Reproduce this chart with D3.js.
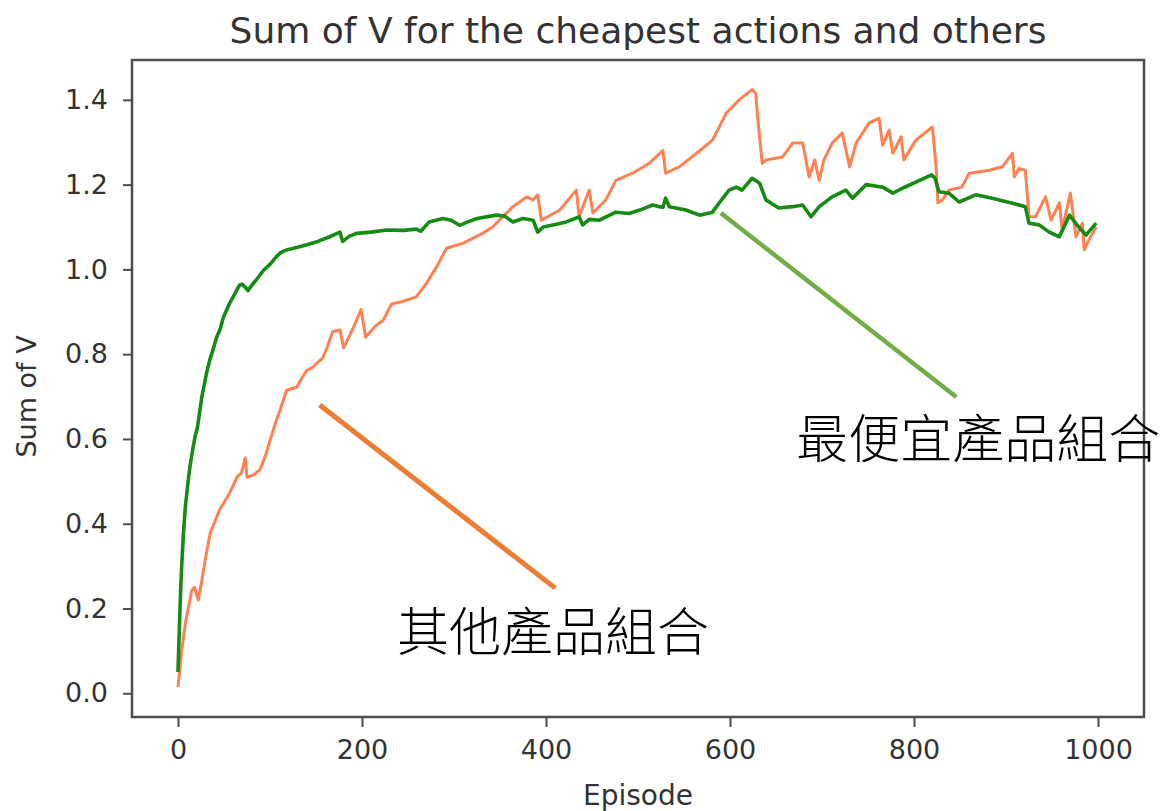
<!DOCTYPE html>
<html>
<head>
<meta charset="utf-8">
<script src="https://cdn.jsdelivr.net/npm/d3@7"></script>
<style>
  html, body { margin: 0; padding: 0; background: #fff; }
  svg { display: block; }
</style>
</head>
<body>
<svg id="chart" width="1173" height="811"></svg>
<script>
// ---- Data ----
const cheapEpisodes = [0,1,2,3,4,6,8,11,13,16,19,21,26,31,35,38,42,46,49,53,56,60,64,67,70,73,76,80,85,93,100,107,112,118,130,140,152,165,176,179,186,194,210,227,245,259,264,273,288,297,306,315,325,346,355,364,375,386,391,397,410,422,436,440,447,458,476,490,502,516,527,530,534,552,567,581,588,599,607,613,624,632,639,653,668,679,688,697,711,726,733,748,766,777,788,802,819,823,827,838,849,867,885,907,921,925,936,947,958,969,979,987,998];
const cheapValues = [0.05,0.12,0.19,0.25,0.30,0.38,0.44,0.50,0.535,0.575,0.61,0.625,0.70,0.755,0.79,0.81,0.84,0.86,0.885,0.905,0.92,0.935,0.952,0.963,0.965,0.958,0.950,0.962,0.975,0.998,1.012,1.03,1.04,1.046,1.052,1.058,1.066,1.077,1.088,1.066,1.078,1.085,1.088,1.093,1.092,1.095,1.09,1.112,1.12,1.116,1.104,1.112,1.12,1.128,1.126,1.112,1.12,1.116,1.088,1.10,1.106,1.112,1.124,1.105,1.118,1.116,1.135,1.132,1.14,1.152,1.146,1.168,1.148,1.14,1.128,1.135,1.156,1.187,1.194,1.187,1.215,1.204,1.164,1.145,1.148,1.152,1.124,1.148,1.171,1.187,1.168,1.2,1.194,1.18,1.192,1.206,1.223,1.215,1.183,1.18,1.159,1.176,1.168,1.156,1.148,1.109,1.105,1.088,1.077,1.128,1.10,1.081,1.109];

const otherEpisodes = [0,4,8,15,18,22,26,30,35,40,45,50,56,60,64,69,73,75,82,89,95,100,107,112,118,129,135,140,146,151,157,162,168,176,180,190,199,204,214,223,232,245,259,270,281,292,310,331,342,353,364,379,386,391,395,415,433,436,447,451,465,476,494,512,527,530,545,567,581,596,610,624,628,630,635,639,657,668,679,686,692,697,702,711,722,730,737,751,762,766,773,777,786,789,802,820,824,826,831,838,852,860,882,896,907,909,914,921,925,932,943,949,958,961,970,976,983,985,990,998];
const otherValues = [0.015,0.10,0.165,0.243,0.25,0.22,0.267,0.32,0.378,0.405,0.432,0.45,0.472,0.49,0.51,0.52,0.555,0.51,0.515,0.527,0.56,0.597,0.644,0.675,0.715,0.722,0.745,0.762,0.768,0.779,0.79,0.815,0.853,0.857,0.815,0.86,0.905,0.84,0.865,0.88,0.918,0.925,0.935,0.967,1.006,1.05,1.062,1.085,1.1,1.124,1.148,1.171,1.164,1.176,1.116,1.14,1.187,1.124,1.187,1.133,1.164,1.21,1.227,1.25,1.28,1.227,1.242,1.28,1.305,1.369,1.40,1.424,1.416,1.36,1.25,1.258,1.265,1.298,1.298,1.218,1.258,1.21,1.258,1.298,1.322,1.242,1.298,1.345,1.357,1.293,1.329,1.274,1.313,1.258,1.305,1.336,1.242,1.157,1.164,1.187,1.194,1.227,1.234,1.242,1.274,1.218,1.238,1.234,1.124,1.124,1.171,1.116,1.157,1.093,1.18,1.077,1.109,1.046,1.069,1.10];

const xTicks = [0, 200, 400, 600, 800, 1000];
const yTicks = [0.0, 0.2, 0.4, 0.6, 0.8, 1.0, 1.2, 1.4];
const titleText = "Sum of V for the cheapest actions and others";
const xLabel = "Episode";
const yLabel = "Sum of V";

// Annotation callouts (in data coordinates: episode, value)
const annotOtherLine = [[154, 0.680], [410, 0.248]];
const annotCheapLine = [[590, 1.133], [846, 0.699]];
const annotOtherText = { label: "其他產品組合", ep: 238, v: 0.099 };
const annotCheapText = { label: "最便宜產品組合", ep: 672, v: 0.555 };

// ---- Layout ----
const svg = d3.select("#chart");
const plotLeft = 132, plotRight = 1144, plotTop = 60, plotBottom = 717;

const x = d3.scaleLinear().domain([-50, 1050]).range([plotLeft, plotRight]);
const y = d3.scaleLinear().domain([-0.056, 1.494]).range([plotBottom, plotTop]);

const tickFont = "DejaVu Sans";
const textColor = "#333333";

// Lines
const cheapData = cheapEpisodes.map((e, i) => [e, cheapValues[i]]);
const otherData = otherEpisodes.map((e, i) => [e, otherValues[i]]);
const line = d3.line().x(d => x(d[0])).y(d => y(d[1]));

const plot = svg.append("g");
plot.append("path").datum(otherData)
  .attr("d", line).attr("fill", "none")
  .attr("stroke", "#ff8050").attr("stroke-width", 3)
  .attr("stroke-linejoin", "round");
plot.append("path").datum(cheapData)
  .attr("d", line).attr("fill", "none")
  .attr("stroke", "#158a15").attr("stroke-width", 3.6)
  .attr("stroke-linejoin", "round");

// Frame
svg.append("rect")
  .attr("x", plotLeft).attr("y", plotTop)
  .attr("width", plotRight - plotLeft).attr("height", plotBottom - plotTop)
  .attr("fill", "none").attr("stroke", "#4d4d4d").attr("stroke-width", 2.5);

// Axes
const xAxis = d3.axisBottom(x).tickValues(xTicks).tickFormat(d3.format("d"))
  .tickSize(10).tickPadding(13);
const gx = svg.append("g").attr("transform", `translate(0,${plotBottom})`).call(xAxis);
gx.select(".domain").remove();
gx.selectAll(".tick line").attr("stroke", "#4d4d4d").attr("stroke-width", 2);
gx.selectAll(".tick text").attr("font-family", tickFont).attr("font-size", 27)
  .attr("fill", textColor);

const yAxis = d3.axisLeft(y).tickValues(yTicks).tickFormat(d3.format(".1f"))
  .tickSize(9).tickPadding(15);
const gy = svg.append("g").attr("transform", `translate(${plotLeft},0)`).call(yAxis);
gy.select(".domain").remove();
gy.selectAll(".tick line").attr("stroke", "#4d4d4d").attr("stroke-width", 2);
gy.selectAll(".tick text").attr("font-family", tickFont).attr("font-size", 27)
  .attr("fill", textColor);

// Title & axis labels
svg.append("text").attr("x", (plotLeft + plotRight) / 2).attr("y", 43)
  .attr("text-anchor", "middle").attr("font-family", tickFont)
  .attr("font-size", 36).attr("fill", textColor).text(titleText);

svg.append("text").attr("x", (plotLeft + plotRight) / 2).attr("y", 805)
  .attr("text-anchor", "middle").attr("font-family", tickFont)
  .attr("font-size", 28).attr("fill", textColor).text(xLabel);

svg.append("text").attr("transform", `translate(36,${(plotTop + plotBottom) / 2 + 8}) rotate(-90)`)
  .attr("text-anchor", "middle").attr("font-family", tickFont)
  .attr("font-size", 27).attr("fill", textColor).text(yLabel);

// Annotations
svg.append("line")
  .attr("x1", x(annotOtherLine[0][0])).attr("y1", y(annotOtherLine[0][1]))
  .attr("x2", x(annotOtherLine[1][0])).attr("y2", y(annotOtherLine[1][1]))
  .attr("stroke", "#ed7d31").attr("stroke-width", 5);
svg.append("line")
  .attr("x1", x(annotCheapLine[0][0])).attr("y1", y(annotCheapLine[0][1]))
  .attr("x2", x(annotCheapLine[1][0])).attr("y2", y(annotCheapLine[1][1]))
  .attr("stroke", "#70ad47").attr("stroke-width", 4.5);

const cjk = "'Noto Sans CJK TC', 'Noto Sans CJK SC', sans-serif";
[annotOtherText, annotCheapText].forEach(a => {
  svg.append("text").attr("x", x(a.ep)).attr("y", y(a.v))
    .attr("font-family", cjk).attr("font-weight", 300)
    .attr("font-size", 52).attr("fill", "#000").text(a.label);
});
</script>
</body>
</html>
